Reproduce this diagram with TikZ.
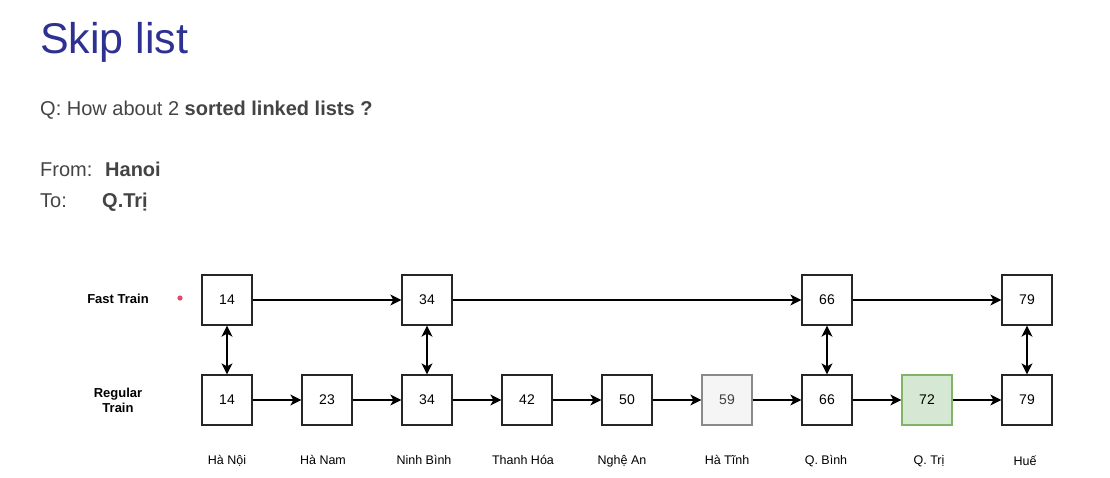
\documentclass[tikz,border=0pt]{standalone}
\usepackage{fontspec}
\setmainfont{Liberation Sans}
\usetikzlibrary{arrows.meta}
\definecolor{titleblue}{HTML}{2E3192}
\definecolor{txtgray}{HTML}{444444}
\definecolor{hatfill}{HTML}{F5F5F5}
\definecolor{hatdraw}{HTML}{8A8A8A}
\definecolor{qtfill}{HTML}{D5E8D4}
\definecolor{qtdraw}{HTML}{82B366}
\definecolor{laser}{HTML}{E8456A}
\begin{document}
\begin{tikzpicture}[x=1pt,y=-1pt,
  cell/.style={draw=black!85,line width=1.3pt,minimum size=50pt,inner sep=0pt,font=\fontsize{14}{16}\selectfont},
  city/.style={font=\fontsize{12.5}{15}\selectfont,anchor=base},
  lvl/.style={font=\fontsize{13}{15}\selectfont\bfseries,align=center},
  tip/.tip={Stealth[length=11pt,width=11pt,inset=3pt]},
  link/.style={line width=1.3pt,-tip},
  dlink/.style={line width=1.3pt,tip-tip},
  head/.style={anchor=base west,inner sep=0pt,text=txtgray,font=\fontsize{20}{24}\selectfont}]
\useasboundingbox (0,0) rectangle (1110,477);
% title and text
\node[anchor=base west,inner sep=0pt,text=titleblue,font=\fontsize{43}{50}\selectfont] (title) at (40,53) {Skip list};
\node[head] (q) at (40,115) {Q: How about 2 \textbf{sorted linked lists ?}};
\node[head] (from) at (40,176) {From:};
\node[head] (fromval) at (105,176) {\textbf{Hanoi}};
\node[head] (to) at (40,207) {To:};
\node[head] (toval) at (102,207) {\textbf{Q.Trị}};
% level labels
\node[lvl] (fast) at (118,299) {Fast Train};
\node[lvl] (reg) at (118,400) {Regular\\Train};
\fill[laser] (180,298) circle (2.6pt);
% fast row
\node[cell] (f1) at (227,300) {14};
\node[cell] (f3) at (427,300) {34};
\node[cell] (f7) at (827,300) {66};
\node[cell] (f9) at (1027,300) {79};
% regular row
\node[cell] (r1) at (227,400) {14};
\node[cell] (r2) at (327,400) {23};
\node[cell] (r3) at (427,400) {34};
\node[cell] (r4) at (527,400) {42};
\node[cell] (r5) at (627,400) {50};
\node[cell,fill=hatfill,draw=hatdraw,text=black!75] (r6) at (727,400) {59};
\node[cell] (r7) at (827,400) {66};
\node[cell,fill=qtfill,draw=qtdraw] (r8) at (927,400) {72};
\node[cell] (r9) at (1027,400) {79};
% city labels
\node[city] (c1) at (227,464) {Hà Nội};
\node[city] (c2) at (323,464) {Hà Nam};
\node[city] (c3) at (424,464) {Ninh Bình};
\node[city] (c4) at (523,464) {Thanh Hóa};
\node[city] (c5) at (622,464) {Nghệ An};
\node[city] (c6) at (727,464) {Hà Tĩnh};
\node[city] (c7) at (826,464) {Q. Bình};
\node[city] (c8) at (929,464) {Q. Trị};
\node[city] (c9) at (1025,465) {Huế};
% links
\draw[link] (f1) -- (f3);
\draw[link] (f3) -- (f7);
\draw[link] (f7) -- (f9);
\draw[link] (r1) -- (r2);
\draw[link] (r2) -- (r3);
\draw[link] (r3) -- (r4);
\draw[link] (r4) -- (r5);
\draw[link] (r5) -- (r6);
\draw[link] (r6) -- (r7);
\draw[link] (r7) -- (r8);
\draw[link] (r8) -- (r9);
\draw[dlink] (f1) -- (r1);
\draw[dlink] (f3) -- (r3);
\draw[dlink] (f7) -- (r7);
\draw[dlink] (f9) -- (r9);
\end{tikzpicture}
\end{document}
